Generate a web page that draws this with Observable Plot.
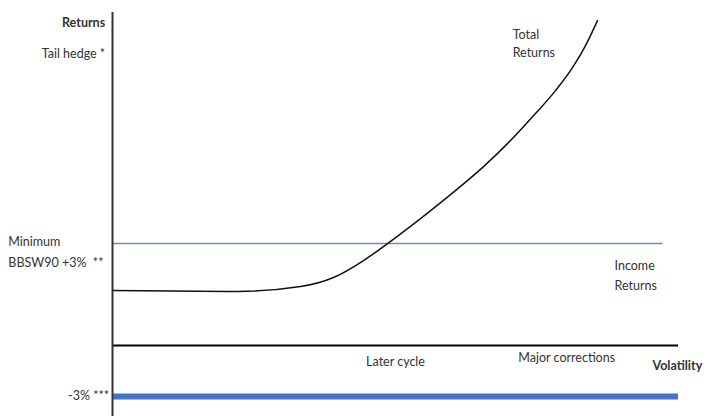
<!DOCTYPE html>
<html>
<head>
<meta charset="utf-8">
<script src="https://cdn.jsdelivr.net/npm/d3@7"></script>
<script src="https://cdn.jsdelivr.net/npm/@observablehq/plot@0.6"></script>
<style>
  html, body { margin: 0; padding: 0; background: #fff; }
  #chart svg { display: block; }
</style>
</head>
<body>
<div id="chart"></div>
<script>
// Conceptual diagram: Returns (y) vs Volatility (x, 0–100 arbitrary units)
const curveVol     = [0, 22.08, 33.22, 39.05, 44.35, 48.59, 54.42, 59.72, 65.55, 70.32, 74.73, 78.27, 81.27, 83.57, 85.69];
const curveReturns = [3.24, 3.18, 3.47, 4.0, 5.0, 6.0, 7.47, 8.88, 10.53, 12.06, 13.65, 15.0, 16.35, 17.65, 19.12];

const incomeLevel = 6;     // Minimum BBSW90 +3%
const incomeEnd   = 97.3;
const floorLevel  = -3;    // -3%
const axisEnd     = 100;

// Labels: text, volatility position, return position, anchor, weight
const labelText   = ["Returns", "Tail hedge *", "Minimum", "BBSW90 +3%  **", "-3% ***", "Later cycle", "Major corrections", "Volatility", "Total", "Returns", "Income", "Returns"];
const labelVol    = [-1.3, -1.3, -18.4, -18.4, -0.6, 50.0, 71.7, 95.4, 70.7, 70.7, 88.7, 88.7];
const labelRet    = [19.0, 17.18, 6.12, 4.88, -3.0, -1.0, -0.76, -1.18, 18.3, 17.2, 4.65, 3.53];
const labelAnchor = ["end", "end", "start", "start", "end", "middle", "start", "start", "start", "start", "start", "start"];
const labelWeight = ["bold", "normal", "normal", "normal", "normal", "normal", "normal", "bold", "normal", "normal", "normal", "normal"];

const curve = curveVol.map((v, i) => ({vol: v, ret: curveReturns[i]}));
const labels = labelText.map((t, i) => ({text: t, vol: labelVol[i], ret: labelRet[i], anchor: labelAnchor[i], weight: labelWeight[i]}));

const font = "Lato, 'Open Sans', sans-serif";

const chart = Plot.plot({
  width: 707,
  height: 416,
  marginLeft: 112,
  marginRight: 29,
  marginTop: 12,
  marginBottom: 0,
  style: {fontFamily: font, fontSize: "12.5px", background: "#fff", color: "#333"},
  x: {domain: [0, axisEnd], axis: null},
  y: {domain: [-4.18, 19.6], axis: null},
  marks: [
    Plot.ruleY([floorLevel], {x1: 0, x2: axisEnd, stroke: "#4472c4", strokeWidth: 6}),
    Plot.ruleY([incomeLevel], {x1: 0, x2: incomeEnd, stroke: "#6b8fc0", strokeWidth: 1.5}),
    Plot.ruleY([0], {x1: 0, x2: axisEnd, stroke: "#000", strokeWidth: 2}),
    Plot.ruleX([0], {stroke: "#333", strokeWidth: 2}),
    Plot.line(curve, {x: "vol", y: "ret", curve: "monotone-x", stroke: "#111", strokeWidth: 1.5}),
    ...["start", "middle", "end"].flatMap(a => ["normal", "bold"].map(w =>
      Plot.text(labels.filter(d => d.anchor === a && d.weight === w), {
        x: "vol", y: "ret", text: "text", textAnchor: a, fontWeight: w, fill: "#333"
      })
    ))
  ]
});
document.getElementById("chart").appendChild(chart);
</script>
</body>
</html>
